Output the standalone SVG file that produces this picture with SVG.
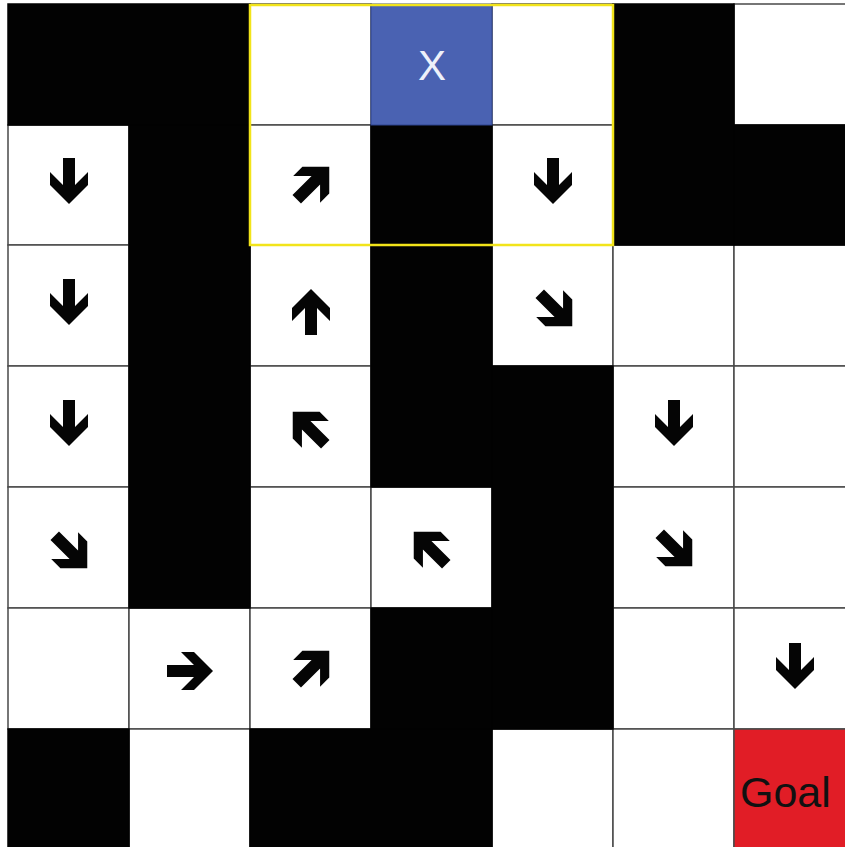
<svg xmlns="http://www.w3.org/2000/svg" xmlns:xlink="http://www.w3.org/1999/xlink" width="845" height="847" viewBox="0 0 845 847">
<style>
.w{fill:#ffffff;stroke:#4a4a4a;stroke-width:1.5}
.b{fill:#020202;stroke:#020202;stroke-width:1.5}
.arr{fill:#050505}
.lbl{font-family:"Liberation Sans",Arial,sans-serif}
</style>
<defs>
<path id="a" d="M-6,-23 H6 V4 L19,-9 V4 L0,23 L-19,4 V-9 L-6,4 Z"/>
</defs>
<rect x="0" y="0" width="845" height="847" fill="#ffffff"/>
<g id="cells-white">
<rect id="c0-2" class="w" x="250" y="4" width="121" height="121"/>
<rect id="c0-4" class="w" x="492" y="4" width="121" height="121"/>
<rect id="c0-6" class="w" x="734" y="4" width="113" height="121"/>
<rect id="c1-0" class="w" x="8" y="125" width="121" height="120"/>
<rect id="c1-2" class="w" x="250" y="125" width="121" height="120"/>
<rect id="c1-4" class="w" x="492" y="125" width="121" height="120"/>
<rect id="c2-0" class="w" x="8" y="245" width="121" height="121"/>
<rect id="c2-2" class="w" x="250" y="245" width="121" height="121"/>
<rect id="c2-4" class="w" x="492" y="245" width="121" height="121"/>
<rect id="c2-5" class="w" x="613" y="245" width="121" height="121"/>
<rect id="c2-6" class="w" x="734" y="245" width="113" height="121"/>
<rect id="c3-0" class="w" x="8" y="366" width="121" height="121"/>
<rect id="c3-2" class="w" x="250" y="366" width="121" height="121"/>
<rect id="c3-5" class="w" x="613" y="366" width="121" height="121"/>
<rect id="c3-6" class="w" x="734" y="366" width="113" height="121"/>
<rect id="c4-0" class="w" x="8" y="487" width="121" height="121"/>
<rect id="c4-2" class="w" x="250" y="487" width="121" height="121"/>
<rect id="c4-3" class="w" x="371" y="487" width="121" height="121"/>
<rect id="c4-5" class="w" x="613" y="487" width="121" height="121"/>
<rect id="c4-6" class="w" x="734" y="487" width="113" height="121"/>
<rect id="c5-0" class="w" x="8" y="608" width="121" height="121"/>
<rect id="c5-1" class="w" x="129" y="608" width="121" height="121"/>
<rect id="c5-2" class="w" x="250" y="608" width="121" height="121"/>
<rect id="c5-5" class="w" x="613" y="608" width="121" height="121"/>
<rect id="c5-6" class="w" x="734" y="608" width="113" height="121"/>
<rect id="c6-1" class="w" x="129" y="729" width="121" height="120"/>
<rect id="c6-4" class="w" x="492" y="729" width="121" height="120"/>
<rect id="c6-5" class="w" x="613" y="729" width="121" height="120"/>
</g>
<g id="cells-black">
<rect class="b" x="8" y="4" width="242" height="121"/>
<rect class="b" x="129" y="125" width="121" height="483"/>
<rect class="b" x="371" y="125" width="121" height="362"/>
<rect class="b" x="492" y="366" width="121" height="363"/>
<rect class="b" x="371" y="608" width="121" height="121"/>
<rect class="b" x="613" y="4" width="121" height="241"/>
<rect class="b" x="734" y="125" width="113" height="120"/>
<rect class="b" x="8" y="729" width="121" height="120"/>
<rect class="b" x="250" y="729" width="242" height="120"/>
</g>
<g id="start">
<rect x="371" y="4" width="121" height="121" fill="#4a62b2" stroke="#2f4590" stroke-width="1"/>
<text class="lbl" x="432" y="80" font-size="42" fill="#eef1fa" text-anchor="middle">X</text>
</g>
<g id="goal">
<rect x="734" y="729" width="113" height="120" fill="#e11d26" stroke="#4a4a4a" stroke-width="1.5"/>
<text class="lbl" x="740" y="807" font-size="43" fill="#111111">Goal</text>
</g>
<g id="window">
<rect x="250" y="5" width="363" height="240" fill="none" stroke="#f2e41a" stroke-width="2.5"/>
</g>
<g id="arrows" class="arr">
<use xlink:href="#a" transform="translate(69,181)"/>
<use xlink:href="#a" transform="translate(313,183) rotate(-135)"/>
<use xlink:href="#a" transform="translate(553,181)"/>
<use xlink:href="#a" transform="translate(69,302)"/>
<use xlink:href="#a" transform="translate(311,312) rotate(180)"/>
<use xlink:href="#a" transform="translate(556,310) rotate(-45)"/>
<use xlink:href="#a" transform="translate(69,423)"/>
<use xlink:href="#a" transform="translate(309,428) rotate(135)"/>
<use xlink:href="#a" transform="translate(674,423)"/>
<use xlink:href="#a" transform="translate(71,552) rotate(-45)"/>
<use xlink:href="#a" transform="translate(430,548) rotate(135)"/>
<use xlink:href="#a" transform="translate(676,550) rotate(-45)"/>
<use xlink:href="#a" transform="translate(190,671) rotate(-90)"/>
<use xlink:href="#a" transform="translate(313,667) rotate(-135)"/>
<use xlink:href="#a" transform="translate(795,666)"/>
</g>
</svg>
